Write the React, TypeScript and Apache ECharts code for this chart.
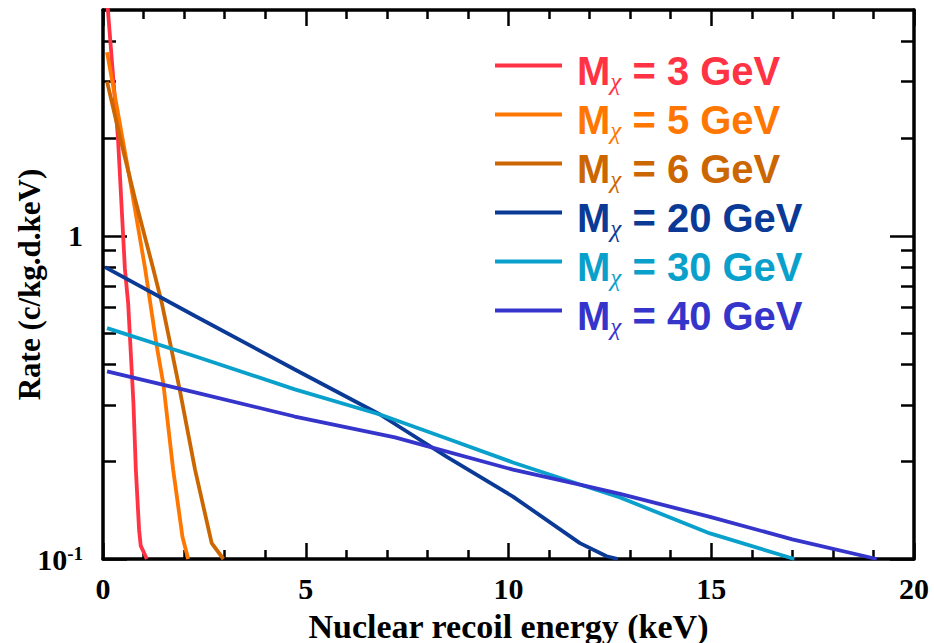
import React, { useEffect, useRef } from "react";
import * as echarts from "echarts";

// WIMP masses (legend names) and colours
const massNames = ["3 GeV", "5 GeV", "6 GeV", "20 GeV", "30 GeV", "40 GeV"];
const massColors = ["#ff3344", "#ff7700", "#cc6600", "#0a3a96", "#0aa0cc", "#3535cc"];

// [recoil energy (keV), rate (c/kg.d.keV)]
const rate3: [number, number][] = [
  [0.1, 5.4], [0.37, 2.0], [0.54, 0.79], [0.62, 0.62], [0.75, 0.305],
  [0.81, 0.189], [0.89, 0.123], [0.93, 0.11], [1.08, 0.1],
];
const rate5: [number, number][] = [
  [0.1, 3.7], [0.69, 1.43], [1.04, 0.79], [1.32, 0.46], [1.49, 0.347],
  [1.73, 0.189], [1.96, 0.117], [2.1, 0.1],
];
const rate6: [number, number][] = [
  [0.1, 3.0], [0.42, 2.02], [0.79, 1.3], [1.24, 0.79], [1.45, 0.62],
  [1.68, 0.45], [1.9, 0.33], [2.27, 0.189], [2.68, 0.112], [2.97, 0.1],
];
const rate20: [number, number][] = [
  [0.05, 0.8], [2.27, 0.565], [4.73, 0.386], [6.83, 0.28], [8.48, 0.207],
  [10.11, 0.156], [11.76, 0.112], [12.42, 0.102], [12.7, 0.1],
];
const rate30: [number, number][] = [
  [0.1, 0.518], [2.27, 0.424], [4.73, 0.335], [6.83, 0.28], [8.48, 0.236],
  [10.11, 0.199], [11.76, 0.17], [12.75, 0.155], [14.97, 0.12], [17.05, 0.1],
];
const rate40: [number, number][] = [
  [0.1, 0.381], [2.27, 0.328], [4.73, 0.276], [7.2, 0.238], [10.11, 0.189],
  [11.76, 0.17], [12.75, 0.159], [14.97, 0.135], [17.0, 0.115], [19.08, 0.1],
];
const allRates = [rate3, rate5, rate6, rate20, rate30, rate40];

// axis ticks
const yMajorTicks = [0.1, 1];
const yMinorTicks = [0.2, 0.3, 0.4, 0.5, 0.6, 0.7, 0.8, 0.9, 2, 3, 4];
const yLabelValues = [0.1, 1];
const xMin = 0;
const xMax = 20;
const xInterval = 5;

const SERIF = "'Liberation Serif', 'Times New Roman', serif";
const SANS = "'Liberation Sans', Arial, sans-serif";

export default function App() {
  const ref = useRef<HTMLDivElement>(null);

  useEffect(() => {
    document.body.style.margin = "0";
    if (!ref.current) return;
    const chart = echarts.init(ref.current, undefined, { renderer: "svg" });

    const yBase = { type: "log" as const, logBase: 10, min: 0.1, max: 5, gridIndex: 0, splitLine: { show: false } };
    const tickStyle = { color: "#000", width: 2.5 };
    const lineStyle = { color: "#000", width: 3.5 };

    const xBase = {
      type: "value" as const,
      min: xMin,
      max: xMax,
      interval: xInterval,
      splitLine: { show: false },
      axisLine: { show: true, lineStyle },
      axisTick: { show: true, inside: true, length: 16, lineStyle: tickStyle },
      minorTick: { show: true, splitNumber: 5, length: 9, lineStyle: tickStyle },
    };

    const option: any = {
      animation: false,
      backgroundColor: "#fff",
      grid: { left: 103, right: 20, top: 10, bottom: 84, containLabel: false, outerBoundsMode: "none" },
      xAxis: [
        {
          ...xBase,
          position: "bottom",
          name: "Nuclear recoil energy (keV)",
          nameLocation: "middle",
          nameGap: 50,
          nameMoveOverlap: false,
          nameTextStyle: { fontFamily: SERIF, fontWeight: "bold", fontSize: 34, color: "#000" },
          axisLabel: { show: true, margin: 14, fontFamily: SERIF, fontWeight: "bold", fontSize: 30, color: "#000" },
        },
        { ...xBase, position: "top", axisLabel: { show: false } },
      ],
      yAxis: [
        {
          ...yBase,
          position: "left",
          name: "Rate (c/kg.d.keV)",
          nameLocation: "middle",
          nameRotate: 90,
          nameGap: 58,
          nameMoveOverlap: false,
          nameTextStyle: { fontFamily: SERIF, fontWeight: "bold", fontSize: 31, color: "#000" },
          axisLine: { show: true, lineStyle },
          axisTick: { show: true, inside: true, length: 24, lineStyle: tickStyle, customValues: yMajorTicks },
          axisLabel: {
            show: true,
            margin: 20,
            customValues: yLabelValues,
            formatter: (v: number) => (v < 0.5 ? "{b|10}{sup|-1}" : "{b|1}"),
            rich: {
              b: { fontFamily: SERIF, fontWeight: "bold", fontSize: 30, color: "#000" },
              sup: { fontFamily: SERIF, fontWeight: "bold", fontSize: 19, color: "#000", verticalAlign: "top" },
            },
          },
        },
        {
          ...yBase,
          position: "left",
          axisLine: { show: false },
          axisTick: { show: true, inside: true, length: 13, lineStyle: tickStyle, customValues: yMinorTicks },
          axisLabel: { show: false },
        },
        {
          ...yBase,
          position: "right",
          axisLine: { show: true, lineStyle },
          axisTick: { show: true, inside: true, length: 24, lineStyle: tickStyle, customValues: yMajorTicks },
          axisLabel: { show: false },
        },
        {
          ...yBase,
          position: "right",
          axisLine: { show: false },
          axisTick: { show: true, inside: true, length: 13, lineStyle: tickStyle, customValues: yMinorTicks },
          axisLabel: { show: false },
        },
      ],
      legend: {
        orient: "vertical",
        left: 495,
        top: 51,
        padding: 0,
        itemGap: 6,
        itemWidth: 67,
        itemHeight: 4,
        icon: "rect",
        data: massNames.map((n, i) => ({ name: n, textStyle: { color: massColors[i] } })),
        formatter: (name: string) => `{m|M}{s|χ}{t| = ${name}}`,
        textStyle: {
          rich: {
            m: { fontFamily: SANS, fontWeight: "bold", fontSize: 40, lineHeight: 29, verticalAlign: "top", padding: [0, 0, 0, 10] },
            s: { fontFamily: SERIF, fontStyle: "italic", fontWeight: "normal", fontSize: 25, lineHeight: 23, verticalAlign: "top", padding: [18, 0, 0, 0] },
            t: { fontFamily: SANS, fontWeight: "bold", fontSize: 40, lineHeight: 29, verticalAlign: "top" },
          },
        },
      },
      series: massNames.map((n, i) => ({
        name: n,
        type: "line",
        xAxisIndex: 0,
        yAxisIndex: 0,
        data: allRates[i],
        showSymbol: false,
        symbol: "none",
        clip: true,
        lineStyle: { color: massColors[i], width: 3.8 },
        itemStyle: { color: massColors[i] },
        z: 3,
      })),
    };

    chart.setOption(option);
    return () => chart.dispose();
  }, []);

  return <div ref={ref} style={{ width: 934, height: 643 }} />;
}
